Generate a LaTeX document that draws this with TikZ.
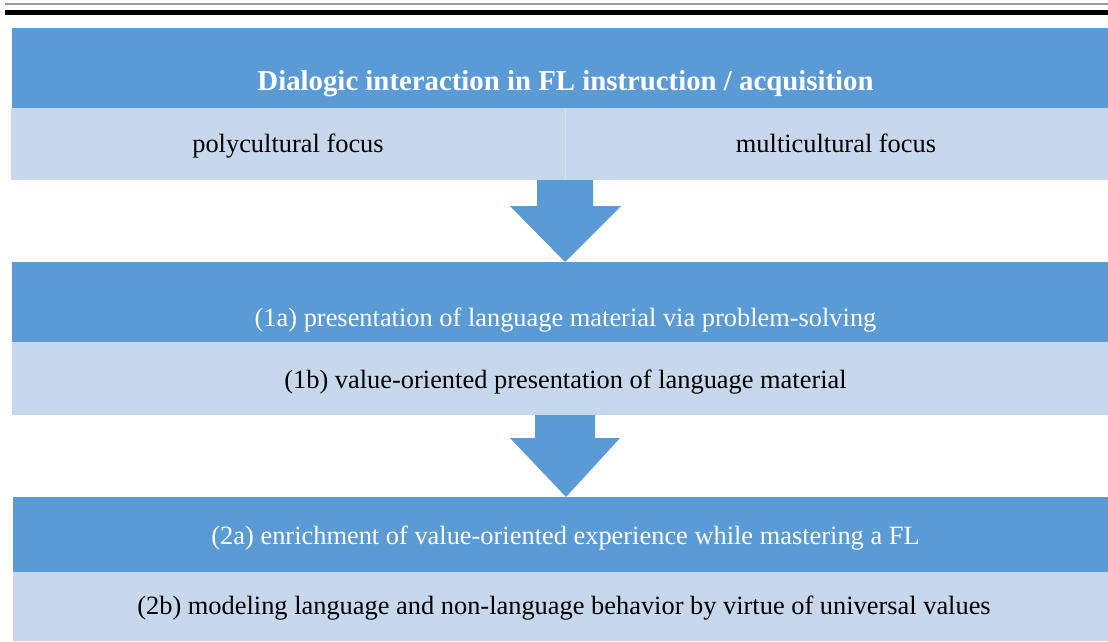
\documentclass[tikz,border=0pt]{standalone}
\usepackage{fontspec}
\setmainfont{Liberation Serif}
\definecolor{dkblue}{RGB}{91,155,213}
\definecolor{ltblue}{RGB}{199,215,236}
\definecolor{divline}{RGB}{214,226,242}
\begin{document}
\begin{tikzpicture}[x=1pt,y=-1pt,
  box/.style={inner sep=0pt,outer sep=0pt,anchor=north west},
  dark/.style={box,fill=dkblue},
  light/.style={box,fill=ltblue},
  wtxt/.style={text=white,font=\fontsize{26.4}{30}\selectfont,inner sep=0pt},
  btxt/.style={text=black,font=\fontsize{26.4}{30}\selectfont,inner sep=0pt},
  arrowshape/.style={fill=dkblue}]
\useasboundingbox (0,0) rectangle (1108,641);
\fill[white] (0,0) rectangle (1108,641);
% top rules
\draw[gray!80,line width=1.2pt] (5,4) -- (1108,4);
\draw[black,line width=5pt] (5,12.5) -- (1108,12.5);
% boxes
\node[dark,minimum width=1096pt,minimum height=80pt] (d1) at (12,28) {};
\node[light,minimum width=1097pt,minimum height=72pt] (l1) at (11,108) {};
\draw[divline,line width=1pt] (565,108) -- (565,180);
\node[dark,minimum width=1096pt,minimum height=80pt] (d2) at (12,262) {};
\node[light,minimum width=1096pt,minimum height=73pt] (l2) at (12,342) {};
\node[dark,minimum width=1095pt,minimum height=75pt] (d3) at (13,497) {};
\node[light,minimum width=1095pt,minimum height=69pt] (l3) at (13,572) {};
% arrows
\fill[arrowshape] (537,180) -- (593,180) -- (593,206) -- (621,206) -- (565,262) -- (510,206) -- (537,206) -- cycle;
\fill[arrowshape] (535,415) -- (595,415) -- (595,438) -- (620,438) -- (566,497) -- (510,438) -- (535,438) -- cycle;
% texts
\node[wtxt,font=\fontsize{28.8}{32}\selectfont\bfseries] (t1) at (565.5,84) {Dialogic interaction in FL instruction / acquisition};
\node[btxt,anchor=base] (t2) at (288,152) {polycultural focus};
\node[btxt,anchor=base] (t3) at (836,152) {multicultural focus};
\node[wtxt] (t4) at (565.5,320) {(1a) presentation of language material via problem-solving};
\node[btxt] (t5) at (565.5,382) {(1b) value-oriented presentation of language material};
\node[wtxt] (t6) at (565.5,538) {(2a) enrichment of value-oriented experience while mastering a FL};
\node[btxt] (t7) at (564,608) {(2b) modeling language and non-language behavior by virtue of universal values};
\end{tikzpicture}
\end{document}
